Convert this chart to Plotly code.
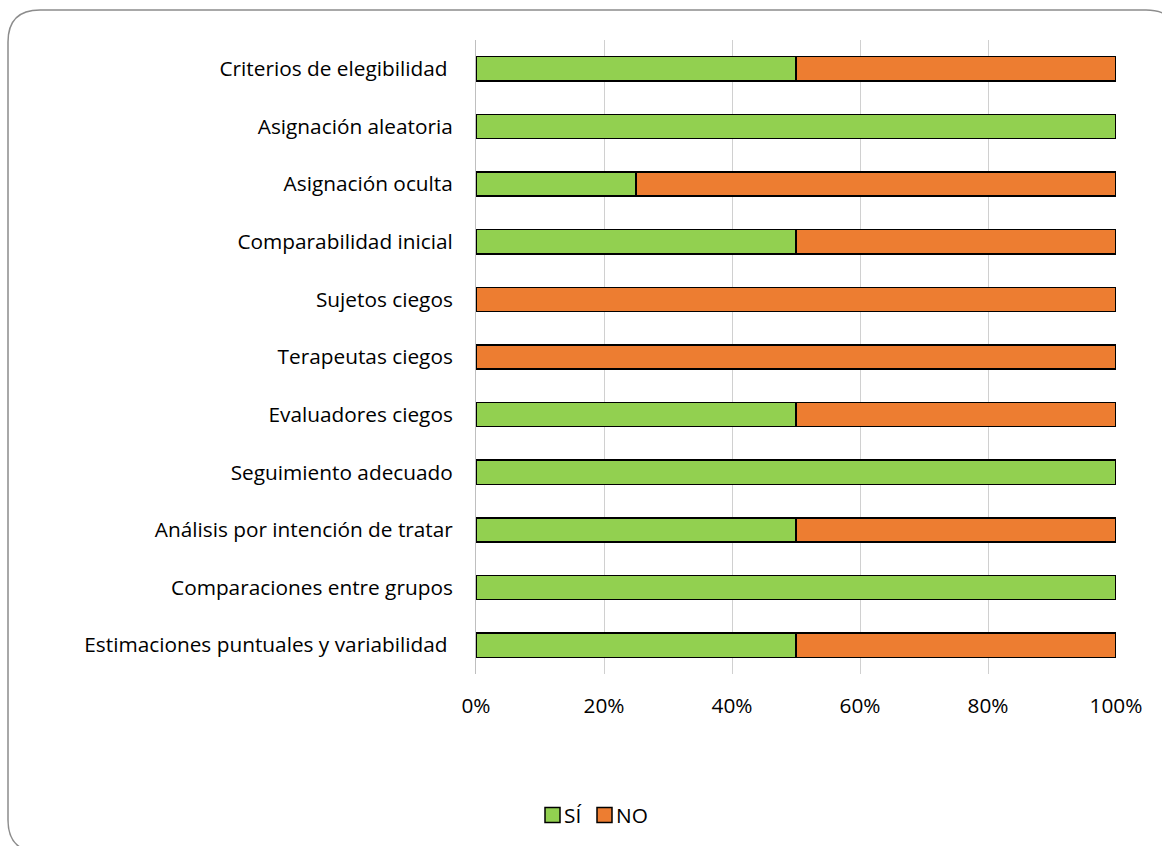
import plotly.graph_objects as go

categories = [
    "Criterios de elegibilidad ",
    "Asignación aleatoria",
    "Asignación oculta",
    "Comparabilidad inicial",
    "Sujetos ciegos",
    "Terapeutas ciegos",
    "Evaluadores ciegos",
    "Seguimiento adecuado",
    "Análisis por intención de tratar",
    "Comparaciones entre grupos",
    "Estimaciones puntuales y variabilidad ",
]
si_values = [50, 100, 25, 50, 0, 0, 50, 100, 50, 100, 50]
no_values = [50, 0, 75, 50, 100, 100, 50, 0, 50, 0, 50]
tick_vals = [0, 20, 40, 60, 80, 100]
tick_text = ["0%", "20%", "40%", "60%", "80%", "100%"]
series_names = ["SÍ", "NO"]
series_colors = ["#92D050", "#ED7D31"]

W, H = 1162, 846
L, R, T, B = 476, 46, 40, 172
pw, ph = W - L - R, H - T - B

FONT = "Open Sans"
FS = 20.8

fig = go.Figure()
for name, vals, col in zip(series_names, [si_values, no_values], series_colors):
    fig.add_trace(go.Bar(
        y=categories, x=vals, name=name, orientation="h",
        marker=dict(color=col, line=dict(color="#000000", width=1.5)),
        width=0.42, showlegend=False,
    ))

def px2x(px):
    return (px - L) / pw

def py2y(py):
    return (H - B - py) / ph

# rounded border
x0, y0, x1, y1, r = 8, 10, 1178, 852, 32
path = (
    f"M {px2x(x0 + r)} {py2y(y0)} L {px2x(x1 - r)} {py2y(y0)} "
    f"Q {px2x(x1)} {py2y(y0)} {px2x(x1)} {py2y(y0 + r)} "
    f"L {px2x(x1)} {py2y(y1 - r)} "
    f"Q {px2x(x1)} {py2y(y1)} {px2x(x1 - r)} {py2y(y1)} "
    f"L {px2x(x0 + r)} {py2y(y1)} "
    f"Q {px2x(x0)} {py2y(y1)} {px2x(x0)} {py2y(y1 - r)} "
    f"L {px2x(x0)} {py2y(y0 + r)} "
    f"Q {px2x(x0)} {py2y(y0)} {px2x(x0 + r)} {py2y(y0)} Z"
)
shapes = [dict(type="path", path=path, xref="paper", yref="paper",
               line=dict(color="#8c8c8c", width=1.5), layer="below")]
annotations = []

# legend (drawn manually to match square swatches)
leg_y = 815
leg_items_x = [545, 597]
sq = 15
for name, col, lx in zip(series_names, series_colors, leg_items_x):
    shapes.append(dict(type="rect", xref="paper", yref="paper",
                       x0=px2x(lx), x1=px2x(lx + sq),
                       y0=py2y(leg_y + sq / 2), y1=py2y(leg_y - sq / 2),
                       fillcolor=col, line=dict(color="#000000", width=1.5)))
    annotations.append(dict(text=name, xref="paper", yref="paper",
                            x=px2x(lx + sq + 2), y=py2y(leg_y),
                            xanchor="left", yanchor="middle", showarrow=False,
                            font=dict(family=FONT, size=FS, color="#000000")))

fig.update_layout(
    width=W, height=H,
    margin=dict(l=L, r=R, t=T, b=B, autoexpand=False),
    barmode="stack",
    paper_bgcolor="white",
    plot_bgcolor="white",
    font=dict(family=FONT, size=FS, color="#000000"),
    shapes=shapes,
    annotations=annotations,
    showlegend=False,
    xaxis=dict(range=[0, 100], tickvals=tick_vals, ticktext=tick_text,
               showgrid=True, gridcolor="#d0d0d0", gridwidth=1,
               zeroline=False, showline=False, ticks="",
               ticklabelstandoff=17, fixedrange=True),
    yaxis=dict(categoryorder="array", categoryarray=categories[::-1],
               autorange=False, range=[-0.5, len(categories) - 0.5],
               showgrid=False, zeroline=False, showline=True,
               linecolor="#bfbfbf", linewidth=1, ticks="",
               ticklabelstandoff=18),
    bargap=0.58,
)

fig.write_html("out.html")
